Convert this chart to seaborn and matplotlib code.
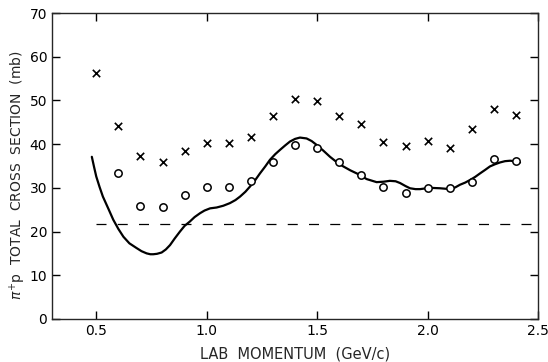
import numpy as np
import pandas as pd
import matplotlib
matplotlib.use("Agg")
import matplotlib.pyplot as plt
import seaborn as sns

# measured points: momentum (GeV/c) and total cross sections (mb)
momentum_x = [0.5, 0.6, 0.7, 0.8, 0.9, 1.0, 1.1, 1.2, 1.3, 1.4,
              1.5, 1.6, 1.7, 1.8, 1.9, 2.0, 2.1, 2.2, 2.3, 2.4]
sigma_x = [56.3, 44.2, 37.3, 35.9, 38.4, 40.3, 40.3, 41.6, 46.4, 50.3,
           49.9, 46.4, 44.6, 40.5, 39.6, 40.7, 39.1, 43.5, 48.0, 46.7]

momentum_o = [0.6, 0.7, 0.8, 0.9, 1.0, 1.1, 1.2, 1.3, 1.4, 1.5,
              1.6, 1.7, 1.8, 1.9, 2.0, 2.1, 2.2, 2.3, 2.4]
sigma_o = [33.4, 25.9, 25.6, 28.4, 30.2, 30.2, 31.6, 35.9, 39.8, 39.1,
           35.9, 33.0, 30.1, 28.8, 30.0, 29.9, 31.4, 36.5, 36.2]

# smooth curve
curve_p = [0.48, 0.49, 0.50, 0.515, 0.53, 0.555, 0.577, 0.60, 0.623, 0.65,
           0.683, 0.705, 0.728, 0.745, 0.758, 0.775, 0.796, 0.815, 0.834, 0.855,
           0.879, 0.90, 0.924, 0.945, 0.970, 0.99, 1.015, 1.045, 1.075, 1.105,
           1.13, 1.151, 1.175, 1.196, 1.22, 1.241, 1.265, 1.286, 1.31, 1.332,
           1.355, 1.377, 1.40, 1.422, 1.452, 1.475, 1.498, 1.528, 1.558, 1.588,
           1.618, 1.65, 1.679, 1.724, 1.769, 1.80, 1.829, 1.855, 1.875, 1.90,
           1.920, 1.945, 1.965, 2.010, 2.056, 2.101, 2.125, 2.146, 2.17, 2.192,
           2.215, 2.237, 2.26, 2.282, 2.305, 2.327, 2.35, 2.373, 2.395, 2.418]
curve_s = [37.1, 34.8, 32.6, 30.2, 28.0, 25.2, 22.7, 20.6, 18.8, 17.3,
           16.2, 15.5, 15.0, 14.8, 14.8, 14.9, 15.2, 15.9, 16.9, 18.4,
           20.0, 21.3, 22.3, 23.3, 24.2, 24.8, 25.3, 25.5, 25.9, 26.5,
           27.2, 28.0, 29.1, 30.3, 31.8, 33.3, 34.9, 36.4, 37.7, 38.7,
           39.7, 40.6, 41.2, 41.5, 41.3, 40.7, 39.8, 38.5, 37.1, 35.9,
           34.9, 34.0, 33.3, 32.0, 31.3, 31.4, 31.6, 31.5, 31.1, 30.4,
           29.9, 29.7, 29.7, 30.0, 29.9, 29.7, 30.1, 30.7, 31.2, 31.8,
           32.5, 33.3, 34.1, 34.9, 35.4, 35.8, 36.1, 36.2, 36.1, 35.8]

level_dashed = 21.7

sns.set_style("ticks")
plt.rcParams.update({
    'font.family': ['DejaVu Sans'],
    'font.size': 10,
    'axes.linewidth': 1.0,
    'xtick.direction': 'in', 'ytick.direction': 'in',
    'xtick.major.size': 6, 'ytick.major.size': 6,
})

fig = plt.figure(figsize=(5.48, 3.62), dpi=100)
ax = fig.add_axes([0.095, 0.119, 0.887, 0.845])

df_x = pd.DataFrame({"p": momentum_x, "sigma": sigma_x})
df_o = pd.DataFrame({"p": momentum_o, "sigma": sigma_o})
df_c = pd.DataFrame({"p": curve_p, "sigma": curve_s})

sns.lineplot(data=df_c, x="p", y="sigma", color="black", linewidth=1.6,
             sort=False, ax=ax, solid_joinstyle="round")
sns.scatterplot(data=df_x, x="p", y="sigma", marker="x", color="black",
                s=28, linewidth=1.2, ax=ax, zorder=3)
sns.scatterplot(data=df_o, x="p", y="sigma", marker="o", facecolor="white",
                edgecolor="black", s=28, linewidth=1.1, ax=ax, zorder=4)

ax.axhline(level_dashed, xmin=(0.5 - 0.3) / 2.2, xmax=1.0, color="black",
           linewidth=0.9, dashes=(8, 9))

ax.set_xlim(0.3, 2.5)
ax.set_ylim(0, 70)
ax.set_xticks([0.5, 1.0, 1.5, 2.0, 2.5])
ax.set_xticklabels(["0.5", "1.0", "1.5", "2.0", "2.5"])
ax.set_yticks(range(0, 71, 10))
ax.tick_params(top=True, right=True, labelsize=10, colors="black", width=1.0)

ax.set_xlabel("LAB  MOMENTUM  (GeV/c)", fontsize=10.5, labelpad=6)
ax.set_ylabel(r"$\pi^{+}$p  TOTAL  CROSS  SECTION  (mb)", fontsize=10)
ax.yaxis.set_label_coords(-0.05, 0.47)

fig.savefig("out.png", dpi=100)
